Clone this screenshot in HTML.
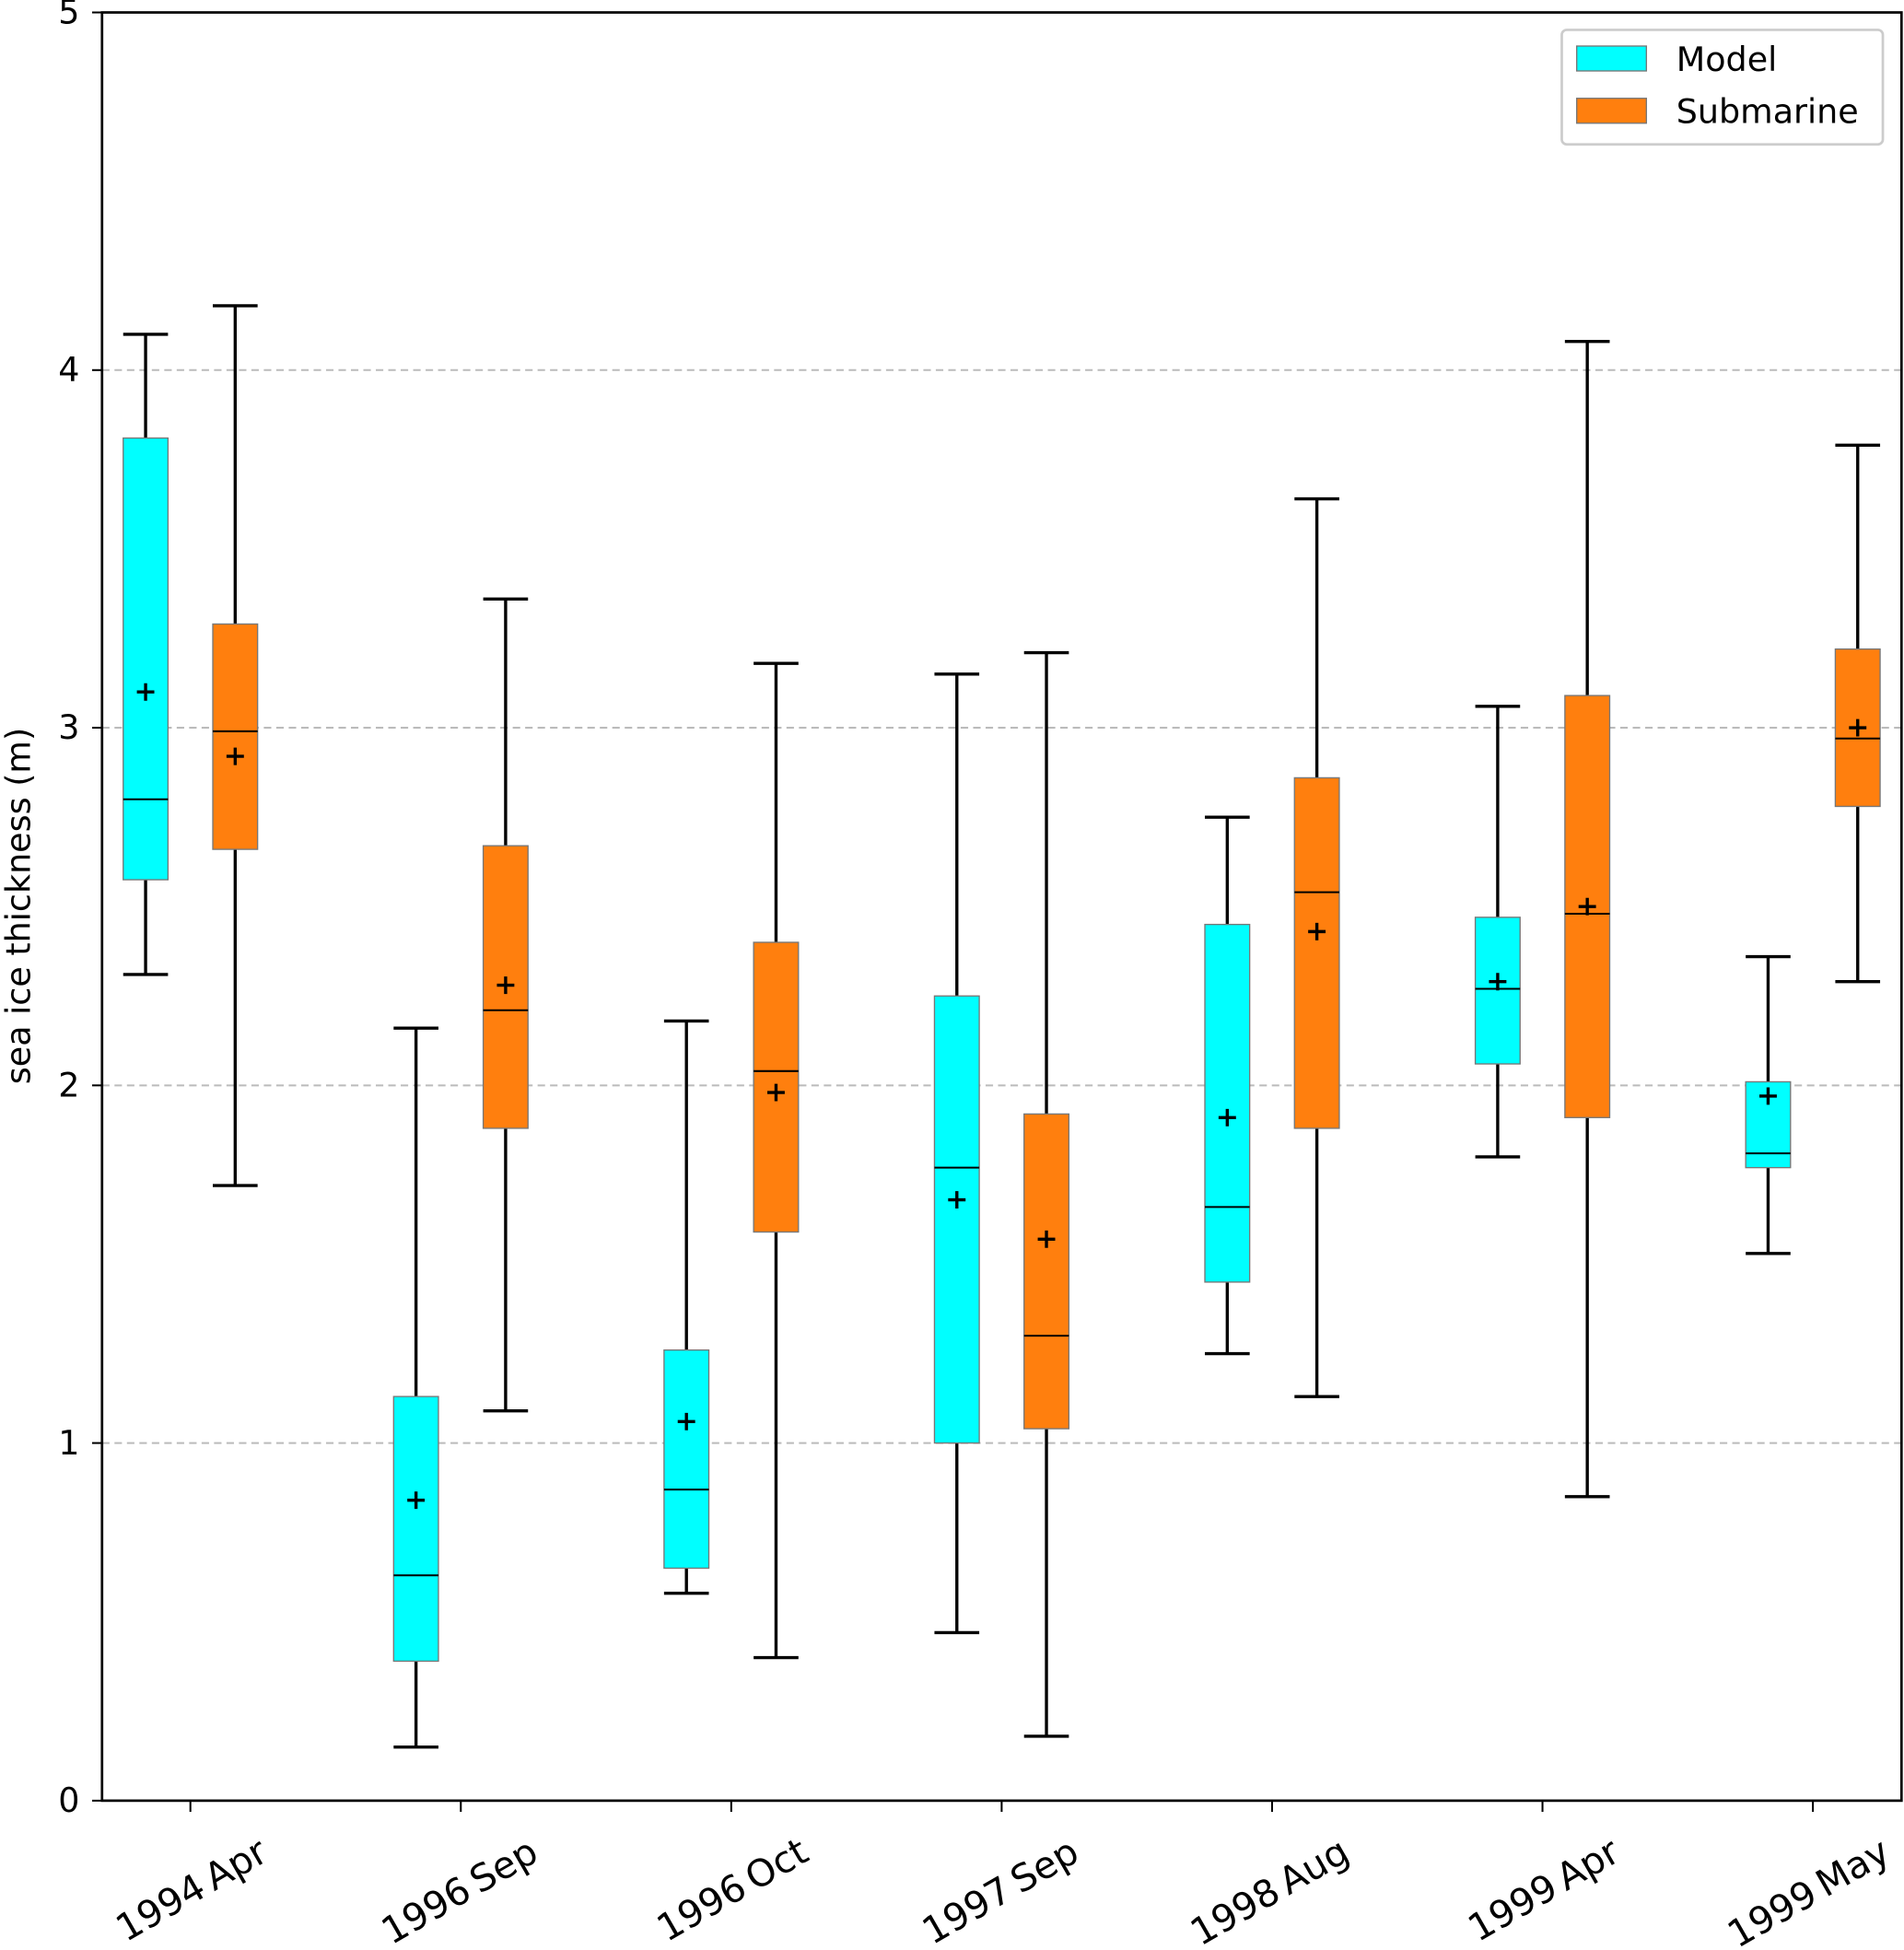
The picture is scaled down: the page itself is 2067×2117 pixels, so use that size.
<!DOCTYPE html>
<html><head><meta charset="utf-8"><style>html,body{margin:0;padding:0;background:#fff}svg{display:block}text{font-family:"DejaVu Sans","Liberation Sans",sans-serif;fill:#000}</style></head>
<body>
<svg id="chart" width="2067" height="2117" viewBox="0 0 1530 1567" xmlns="http://www.w3.org/2000/svg">
<g id="grid"></g>
<g id="marks"></g>
<rect x="82" y="10" width="1446" height="1437" fill="none" stroke="#000" stroke-width="2"/>
<g id="axes"></g>
<text transform="translate(24,728) rotate(-90)" font-size="27" text-anchor="middle">sea ice thickness (m)</text>
<g>
<rect x="1255" y="24" width="258" height="92" rx="4" fill="#fff" stroke="#ccc" stroke-width="2"/>
<rect x="1267" y="37" width="56" height="20" fill="#00ffff" stroke="#777" stroke-width="1"/>
<text x="1347" y="57" font-size="27">Model</text>
<rect x="1267" y="79" width="56" height="20" fill="#ff7f0e" stroke="#777" stroke-width="1"/>
<text x="1347" y="99" font-size="27">Submarine</text>
</g>
</svg>
<script>
const categories = ["1994 Apr","1996 Sep","1996 Oct","1997 Sep","1998 Aug","1999 Apr","1999 May"];
const modelLow  = [2.31,0.15,0.58,0.47,1.25,1.80,1.53];
const modelQ1   = [2.575,0.39,0.65,1.00,1.45,2.06,1.77];
const modelMed  = [2.80,0.63,0.87,1.77,1.66,2.27,1.81];
const modelQ3   = [3.81,1.13,1.26,2.25,2.45,2.47,2.01];
const modelHigh = [4.10,2.16,2.18,3.15,2.75,3.06,2.36];
const modelMean = [3.10,0.84,1.06,1.68,1.91,2.29,1.97];
const subLow  = [1.72,1.09,0.40,0.18,1.13,0.85,2.29];
const subQ1   = [2.66,1.88,1.59,1.04,1.88,1.91,2.78];
const subMed  = [2.99,2.21,2.04,1.30,2.54,2.48,2.97];
const subQ3   = [3.29,2.67,2.40,1.92,2.86,3.09,3.22];
const subHigh = [4.18,3.36,3.18,3.21,3.64,4.08,3.79];
const subMean = [2.92,2.28,1.98,1.57,2.43,2.50,3.00];
const yTicks = [0,1,2,3,4,5];

const NS="http://www.w3.org/2000/svg";
const y = v => 1447 - v*287.4;
const x = i => 153 + i*217.3;
function mk(tag, attrs, parent){const e=document.createElementNS(NS,tag);for(const k in attrs)e.setAttribute(k,attrs[k]);parent.appendChild(e);return e;}
const grid=document.getElementById('grid'), marks=document.getElementById('marks'), axes=document.getElementById('axes');
yTicks.forEach(t=>{
  if(t>0&&t<5){const g=mk('line',{x1:82,x2:1528,y1:y(t),y2:y(t),stroke:'#bbb','stroke-width':1.5,'stroke-dasharray':'6,4'},grid);
  
  }
  const tk=mk('line',{x1:74,x2:82,y1:y(t),y2:y(t),stroke:'#000','stroke-width':1.5},axes);
  
  
  const tx=mk('text',{x:64,y:y(t)+9,'font-size':27,'text-anchor':'end'},axes);tx.textContent=t;
  
  
});
categories.forEach((c,i)=>{
  const tk=mk('line',{x1:x(i),x2:x(i),y1:1447,y2:1456,stroke:'#000','stroke-width':1.5},axes);
  
  
  const tx=mk('text',{transform:`translate(${x(i)+64},${1494}) rotate(-30)`,'font-size':30,'text-anchor':'end','word-spacing':'-4'},axes);tx.textContent=c;
  
  
});
function box(cx,lo,q1,md,q3,hi,mn,fill,name){
  const g=mk('g',{},marks);
  
  
  mk('line',{x1:cx,x2:cx,y1:y(hi),y2:y(q3),stroke:'#000','stroke-width':2.5},g);
  mk('line',{x1:cx,x2:cx,y1:y(q1),y2:y(lo),stroke:'#000','stroke-width':2.5},g);
  mk('line',{x1:cx-18,x2:cx+18,y1:y(hi),y2:y(hi),stroke:'#000','stroke-width':2.5},g);
  mk('line',{x1:cx-18,x2:cx+18,y1:y(lo),y2:y(lo),stroke:'#000','stroke-width':2.5},g);
  mk('rect',{x:cx-18,y:y(q3),width:36,height:y(q1)-y(q3),fill:fill,stroke:'#777','stroke-width':1},g);
  mk('line',{x1:cx-18,x2:cx+18,y1:y(md),y2:y(md),stroke:'#000','stroke-width':1.5},g);
  mk('path',{d:`M${cx-7},${y(mn)}h14M${cx},${y(mn)-7}v14`,stroke:'#000','stroke-width':2.5},g);
}
categories.forEach((c,i)=>{
  box(x(i)-36,modelLow[i],modelQ1[i],modelMed[i],modelQ3[i],modelHigh[i],modelMean[i],'#00ffff','model-box');
  box(x(i)+36,subLow[i],subQ1[i],subMed[i],subQ3[i],subHigh[i],subMean[i],'#ff7f0e','submarine-box');
});
</script>
</body></html>
